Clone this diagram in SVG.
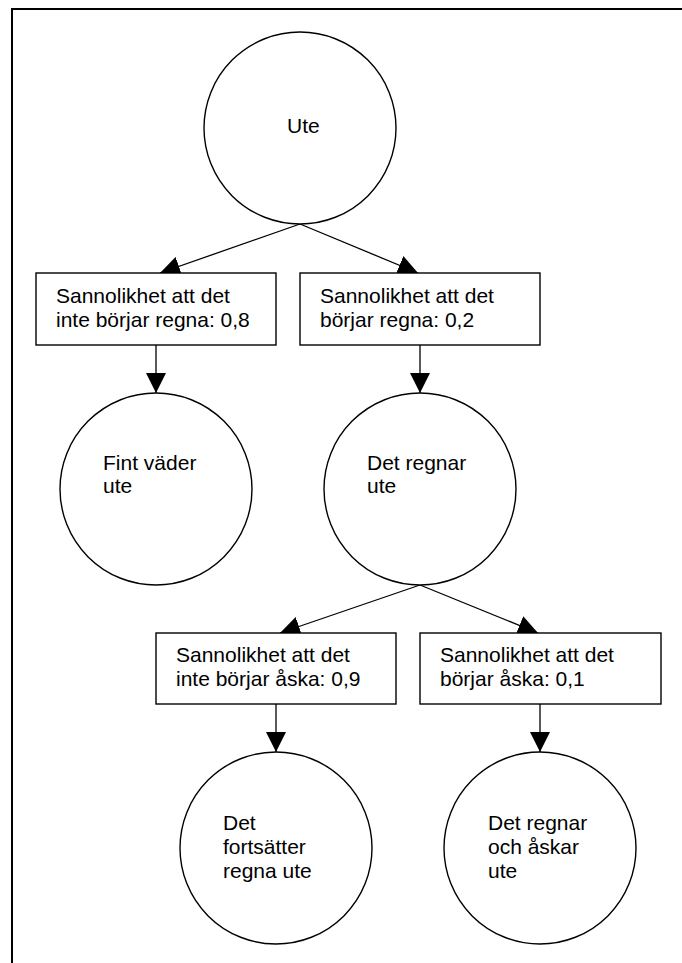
<svg xmlns="http://www.w3.org/2000/svg" width="682" height="963" viewBox="0 0 682 963">
<style>
.frame{fill:none;stroke:#000;stroke-width:2}
.node{fill:#fff;stroke:#000;stroke-width:1.4}
.edge{fill:none;stroke:#000;stroke-width:1.3;marker-end:url(#ah)}
text{font-family:"Liberation Sans",Arial,sans-serif;font-size:21px;fill:#000}
</style>
<defs>
<marker id="ah" markerUnits="userSpaceOnUse" markerWidth="20" markerHeight="20" refX="20" refY="10" orient="auto">
<path d="M0,0 L20,10 L0,20 z" fill="#000"/>
</marker>
</defs>
<rect class="frame" x="12" y="9" width="690" height="980"/>
<g id="connectors">
<line class="edge" x1="300" y1="224" x2="160" y2="273"/>
<line class="edge" x1="300" y1="224" x2="418" y2="273"/>
<line class="edge" x1="156" y1="345" x2="156" y2="393"/>
<line class="edge" x1="420" y1="345" x2="420" y2="393"/>
<line class="edge" x1="420" y1="585" x2="280" y2="633"/>
<line class="edge" x1="420" y1="585" x2="538" y2="633"/>
<line class="edge" x1="276" y1="704" x2="276" y2="752"/>
<line class="edge" x1="540" y1="704" x2="540" y2="752"/>
</g>
<g id="ute">
<circle class="node" cx="300" cy="128" r="96"/>
<text x="287" y="133">Ute</text>
</g>
<g id="box-inte-regna">
<rect class="node" x="36" y="273" width="240" height="72"/>
<text x="56" y="303">Sannolikhet att det</text>
<text x="56" y="327">inte börjar regna: 0,8</text>
</g>
<g id="box-regna">
<rect class="node" x="300" y="273" width="240" height="72"/>
<text x="320" y="303">Sannolikhet att det</text>
<text x="320" y="327">börjar regna: 0,2</text>
</g>
<g id="fint-vader">
<circle class="node" cx="156" cy="489" r="96"/>
<text x="103" y="470">Fint väder</text>
<text x="103" y="493">ute</text>
</g>
<g id="det-regnar">
<circle class="node" cx="420" cy="489" r="96"/>
<text x="367" y="470">Det regnar</text>
<text x="367" y="493">ute</text>
</g>
<g id="box-inte-aska">
<rect class="node" x="156" y="633" width="240" height="71"/>
<text x="176" y="662">Sannolikhet att det</text>
<text x="176" y="686">inte börjar åska: 0,9</text>
</g>
<g id="box-aska">
<rect class="node" x="420" y="633" width="241" height="71"/>
<text x="440" y="662">Sannolikhet att det</text>
<text x="440" y="686">börjar åska: 0,1</text>
</g>
<g id="fortsatter-regna">
<circle class="node" cx="276" cy="848" r="96"/>
<text x="223" y="830">Det</text>
<text x="223" y="854">fortsätter</text>
<text x="223" y="878">regna ute</text>
</g>
<g id="regnar-askar">
<circle class="node" cx="540" cy="848" r="96"/>
<text x="488" y="830">Det regnar</text>
<text x="488" y="854">och åskar</text>
<text x="488" y="878">ute</text>
</g>
</svg>
